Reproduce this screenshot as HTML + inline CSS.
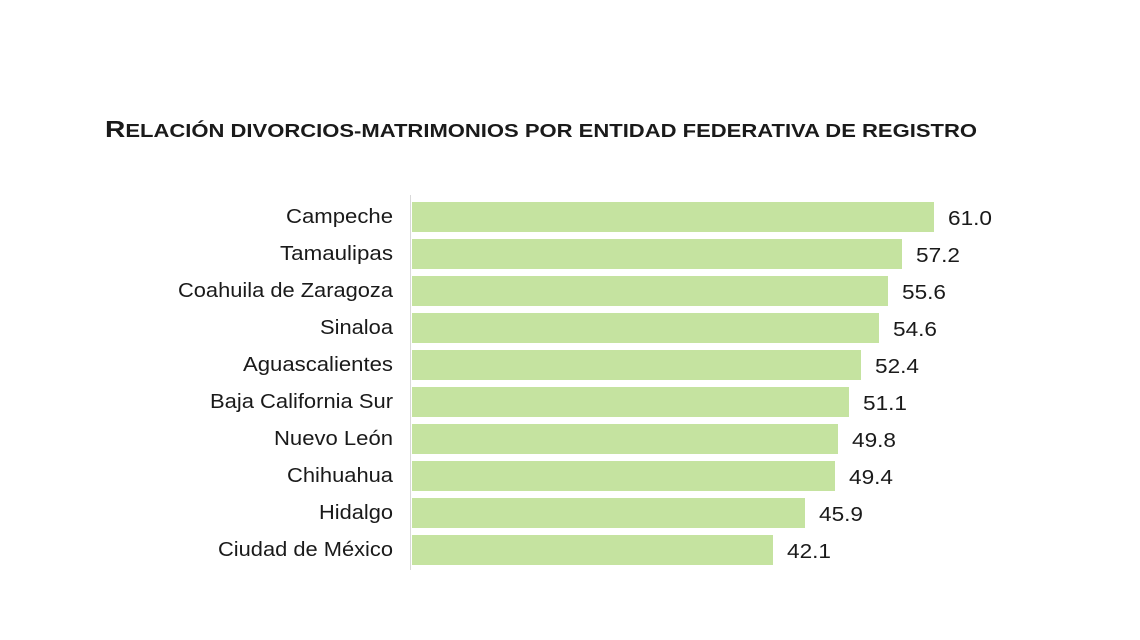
<!DOCTYPE html>
<html><head><meta charset="utf-8"><style>
body{margin:0;background:#fff;}
svg{display:block;}
text{font-family:"Liberation Sans",sans-serif;fill:#1a1a1a;}
</style></head><body>
<svg width="1140" height="640" viewBox="0 0 1140 640">
<text x="105" y="137" font-weight="bold" font-size="18" textLength="872" lengthAdjust="spacingAndGlyphs"><tspan font-size="23">R</tspan>ELACIÓN DIVORCIOS-MATRIMONIOS POR ENTIDAD FEDERATIVA DE REGISTRO</text>
<line x1="410.5" y1="195" x2="410.5" y2="570" stroke="#d9d9d9" stroke-width="1"/>
<g fill="#c5e3a0">
<rect x="412" y="202" width="522" height="30"/>
<rect x="412" y="239" width="490" height="30"/>
<rect x="412" y="276" width="476" height="30"/>
<rect x="412" y="313" width="467" height="30"/>
<rect x="412" y="350" width="449" height="30"/>
<rect x="412" y="387" width="437" height="30"/>
<rect x="412" y="424" width="426" height="30"/>
<rect x="412" y="461" width="423" height="30"/>
<rect x="412" y="498" width="393" height="30"/>
<rect x="412" y="535" width="361" height="30"/>
</g>
<g font-size="20" text-anchor="end" lengthAdjust="spacingAndGlyphs">
<text x="393" y="223" textLength="107" lengthAdjust="spacingAndGlyphs">Campeche</text>
<text x="393" y="260" textLength="113" lengthAdjust="spacingAndGlyphs">Tamaulipas</text>
<text x="393" y="297" textLength="215" lengthAdjust="spacingAndGlyphs">Coahuila de Zaragoza</text>
<text x="393" y="334" textLength="73" lengthAdjust="spacingAndGlyphs">Sinaloa</text>
<text x="393" y="371" textLength="150" lengthAdjust="spacingAndGlyphs">Aguascalientes</text>
<text x="393" y="408" textLength="183" lengthAdjust="spacingAndGlyphs">Baja California Sur</text>
<text x="393" y="445" textLength="119" lengthAdjust="spacingAndGlyphs">Nuevo León</text>
<text x="393" y="482" textLength="106" lengthAdjust="spacingAndGlyphs">Chihuahua</text>
<text x="393" y="519" textLength="74" lengthAdjust="spacingAndGlyphs">Hidalgo</text>
<text x="393" y="556" textLength="175" lengthAdjust="spacingAndGlyphs">Ciudad de México</text>
</g>
<g font-size="20">
<text x="948" y="225" textLength="44" lengthAdjust="spacingAndGlyphs">61.0</text>
<text x="916" y="262" textLength="44" lengthAdjust="spacingAndGlyphs">57.2</text>
<text x="902" y="299" textLength="44" lengthAdjust="spacingAndGlyphs">55.6</text>
<text x="893" y="336" textLength="44" lengthAdjust="spacingAndGlyphs">54.6</text>
<text x="875" y="373" textLength="44" lengthAdjust="spacingAndGlyphs">52.4</text>
<text x="863" y="410" textLength="44" lengthAdjust="spacingAndGlyphs">51.1</text>
<text x="852" y="447" textLength="44" lengthAdjust="spacingAndGlyphs">49.8</text>
<text x="849" y="484" textLength="44" lengthAdjust="spacingAndGlyphs">49.4</text>
<text x="819" y="521" textLength="44" lengthAdjust="spacingAndGlyphs">45.9</text>
<text x="787" y="558" textLength="44" lengthAdjust="spacingAndGlyphs">42.1</text>
</g>
</svg>
</body></html>
